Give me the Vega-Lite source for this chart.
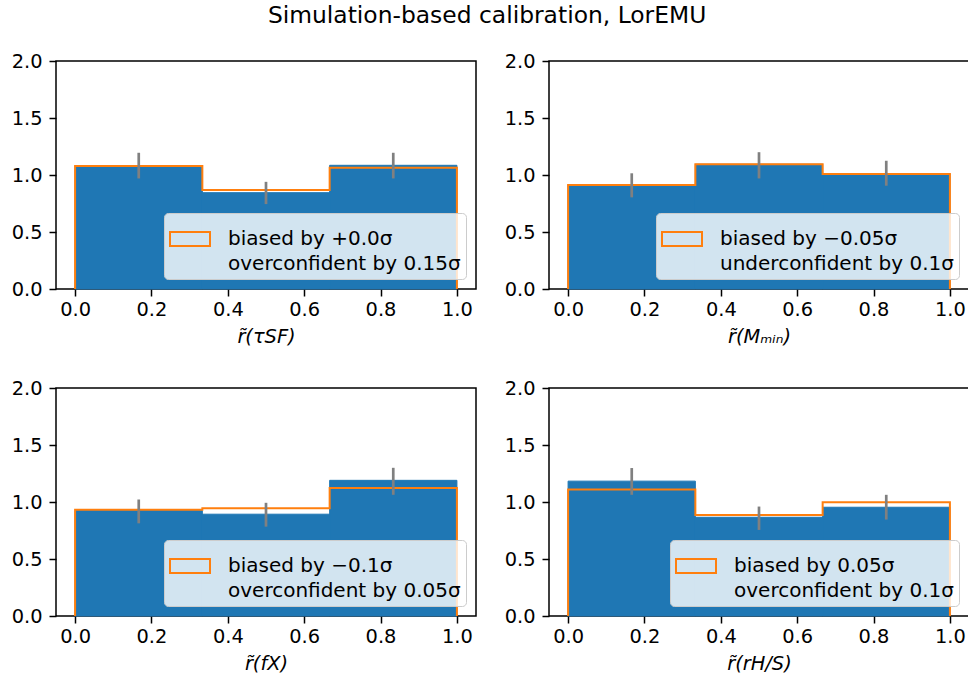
{
  "$schema": "https://vega.github.io/schema/vega-lite/v6.json",
  "background": "white",
  "padding": {"left": 10, "top": 3, "right": 0, "bottom": 0},
  "title": {"text": "Simulation-based calibration, LorEMU", "fontSize": 23.4, "font": "DejaVu Sans", "fontWeight": "normal", "anchor": "middle", "offset": 22, "dx": -3, "color": "black"},
  "config": {
    "font": "DejaVu Sans",
    "view": {"stroke": "black", "strokeWidth": 1.5},
    "axis": {"grid": false, "domain": false, "tickColor": "black", "tickSize": 7, "tickWidth": 1.5, "labelFontSize": 19.4, "labelColor": "black", "labelFont": "DejaVu Sans", "titleFontSize": 19.4, "titleFont": "DejaVu Sans", "titleFontWeight": "normal", "titleColor": "black", "titleFontStyle": "italic", "labelPadding": 4, "titlePadding": 9},
    "axisY": {"labelPadding": 7},
    "legend": {"orient": "bottom-right", "offset": 10, "symbolType": "M-1,-0.35L1,-0.35L1,0.35L-1,0.35Z", "symbolSize": 1600, "symbolStrokeWidth": 2, "symbolFillColor": "transparent", "symbolStrokeColor": "#ff7f0e", "labelFontSize": 20, "labelFont": "DejaVu Sans", "labelColor": "black", "labelLimit": 500, "labelOffset": 17, "fillColor": "rgba(255,255,255,0.8)", "strokeColor": "#cccccc", "cornerRadius": 4, "padding": 5}
  },
  "datasets": {
    "bins": [
      {"panel": "tau", "lo": 0, "hi": 0.3333, "mid": 0.1667, "sim": 1.083, "elo": 0.97, "ehi": 1.195},
      {"panel": "tau", "lo": 0.3333, "hi": 0.6667, "mid": 0.5, "sim": 0.845, "elo": 0.745, "ehi": 0.94},
      {"panel": "tau", "lo": 0.6667, "hi": 1, "mid": 0.8333, "sim": 1.085, "elo": 0.97, "ehi": 1.195},
      {"panel": "mmin", "lo": 0, "hi": 0.3333, "mid": 0.1667, "sim": 0.912, "elo": 0.804, "ehi": 1.015},
      {"panel": "mmin", "lo": 0.3333, "hi": 0.6667, "mid": 0.5, "sim": 1.094, "elo": 0.97, "ehi": 1.2},
      {"panel": "mmin", "lo": 0.6667, "hi": 1, "mid": 0.8333, "sim": 1.009, "elo": 0.906, "ehi": 1.125},
      {"panel": "fx", "lo": 0, "hi": 0.3333, "mid": 0.1667, "sim": 0.925, "elo": 0.813, "ehi": 1.022},
      {"panel": "fx", "lo": 0.3333, "hi": 0.6667, "mid": 0.5, "sim": 0.893, "elo": 0.784, "ehi": 0.993},
      {"panel": "fx", "lo": 0.6667, "hi": 1, "mid": 0.8333, "sim": 1.19, "elo": 1.063, "ehi": 1.3},
      {"panel": "rhs", "lo": 0, "hi": 0.3333, "mid": 0.1667, "sim": 1.183, "elo": 1.063, "ehi": 1.298},
      {"panel": "rhs", "lo": 0.3333, "hi": 0.6667, "mid": 0.5, "sim": 0.866, "elo": 0.755, "ehi": 0.96},
      {"panel": "rhs", "lo": 0.6667, "hi": 1, "mid": 0.8333, "sim": 0.954, "elo": 0.846, "ehi": 1.063}
    ],
    "outline": [
      {"panel": "tau", "ord": 1, "x": 0, "y": 0, "label": "biased by +0.0σ|overconfident by 0.15σ"},
      {"panel": "tau", "ord": 2, "x": 0, "y": 1.078, "label": "biased by +0.0σ|overconfident by 0.15σ"},
      {"panel": "tau", "ord": 3, "x": 0.3333, "y": 1.078, "label": "biased by +0.0σ|overconfident by 0.15σ"},
      {"panel": "tau", "ord": 4, "x": 0.3333, "y": 0.868, "label": "biased by +0.0σ|overconfident by 0.15σ"},
      {"panel": "tau", "ord": 5, "x": 0.6667, "y": 0.868, "label": "biased by +0.0σ|overconfident by 0.15σ"},
      {"panel": "tau", "ord": 6, "x": 0.6667, "y": 1.064, "label": "biased by +0.0σ|overconfident by 0.15σ"},
      {"panel": "tau", "ord": 7, "x": 1, "y": 1.064, "label": "biased by +0.0σ|overconfident by 0.15σ"},
      {"panel": "tau", "ord": 8, "x": 1, "y": 0, "label": "biased by +0.0σ|overconfident by 0.15σ"},
      {"panel": "mmin", "ord": 1, "x": 0, "y": 0, "label": "biased by −0.05σ|underconfident by 0.1σ"},
      {"panel": "mmin", "ord": 2, "x": 0, "y": 0.912, "label": "biased by −0.05σ|underconfident by 0.1σ"},
      {"panel": "mmin", "ord": 3, "x": 0.3333, "y": 0.912, "label": "biased by −0.05σ|underconfident by 0.1σ"},
      {"panel": "mmin", "ord": 4, "x": 0.3333, "y": 1.094, "label": "biased by −0.05σ|underconfident by 0.1σ"},
      {"panel": "mmin", "ord": 5, "x": 0.6667, "y": 1.094, "label": "biased by −0.05σ|underconfident by 0.1σ"},
      {"panel": "mmin", "ord": 6, "x": 0.6667, "y": 1.009, "label": "biased by −0.05σ|underconfident by 0.1σ"},
      {"panel": "mmin", "ord": 7, "x": 1, "y": 1.009, "label": "biased by −0.05σ|underconfident by 0.1σ"},
      {"panel": "mmin", "ord": 8, "x": 1, "y": 0, "label": "biased by −0.05σ|underconfident by 0.1σ"},
      {"panel": "fx", "ord": 1, "x": 0, "y": 0, "label": "biased by −0.1σ|overconfident by 0.05σ"},
      {"panel": "fx", "ord": 2, "x": 0, "y": 0.931, "label": "biased by −0.1σ|overconfident by 0.05σ"},
      {"panel": "fx", "ord": 3, "x": 0.3333, "y": 0.931, "label": "biased by −0.1σ|overconfident by 0.05σ"},
      {"panel": "fx", "ord": 4, "x": 0.3333, "y": 0.945, "label": "biased by −0.1σ|overconfident by 0.05σ"},
      {"panel": "fx", "ord": 5, "x": 0.6667, "y": 0.945, "label": "biased by −0.1σ|overconfident by 0.05σ"},
      {"panel": "fx", "ord": 6, "x": 0.6667, "y": 1.122, "label": "biased by −0.1σ|overconfident by 0.05σ"},
      {"panel": "fx", "ord": 7, "x": 1, "y": 1.122, "label": "biased by −0.1σ|overconfident by 0.05σ"},
      {"panel": "fx", "ord": 8, "x": 1, "y": 0, "label": "biased by −0.1σ|overconfident by 0.05σ"},
      {"panel": "rhs", "ord": 1, "x": 0, "y": 0, "label": "biased by 0.05σ|overconfident by 0.1σ"},
      {"panel": "rhs", "ord": 2, "x": 0, "y": 1.11, "label": "biased by 0.05σ|overconfident by 0.1σ"},
      {"panel": "rhs", "ord": 3, "x": 0.3333, "y": 1.11, "label": "biased by 0.05σ|overconfident by 0.1σ"},
      {"panel": "rhs", "ord": 4, "x": 0.3333, "y": 0.887, "label": "biased by 0.05σ|overconfident by 0.1σ"},
      {"panel": "rhs", "ord": 5, "x": 0.6667, "y": 0.887, "label": "biased by 0.05σ|overconfident by 0.1σ"},
      {"panel": "rhs", "ord": 6, "x": 0.6667, "y": 0.998, "label": "biased by 0.05σ|overconfident by 0.1σ"},
      {"panel": "rhs", "ord": 7, "x": 1, "y": 0.998, "label": "biased by 0.05σ|overconfident by 0.1σ"},
      {"panel": "rhs", "ord": 8, "x": 1, "y": 0, "label": "biased by 0.05σ|overconfident by 0.1σ"}
    ]
  },
  "columns": 2,
  "spacing": {"row": 99, "column": 73},
  "bounds": "flush",
  "resolve": {"scale": {"stroke": "independent", "x": "independent", "y": "independent"}, "legend": {"stroke": "independent"}},
  "concat": [
    {
      "width": 420, "height": 228,
      "layer": [
        {"data": {"name": "bins"}, "transform": [{"filter": "datum.panel == 'tau'"}], "mark": {"type": "bar", "color": "#1f77b4", "stroke": "#1f77b4", "strokeWidth": 1},
         "encoding": {"x": {"field": "lo", "type": "quantitative", "scale": {"domain": [-0.05, 1.05], "nice": false, "zero": false}, "axis": {"values": [0, 0.2, 0.4, 0.6, 0.8, 1.0], "format": ".1f", "title": "r̃(τSF)"}}, "x2": {"field": "hi"},
                      "y": {"field": "sim", "type": "quantitative", "scale": {"domain": [0, 2], "nice": false}, "axis": {"values": [0, 0.5, 1, 1.5, 2], "format": ".1f", "title": null}}, "y2": {"datum": 0}}},
        {"data": {"name": "outline"}, "transform": [{"filter": "datum.panel == 'tau'"}], "mark": {"type": "line", "strokeWidth": 2},
         "encoding": {"x": {"field": "x", "type": "quantitative", "title": "r̃(τSF)"}, "y": {"field": "y", "type": "quantitative", "title": null}, "order": {"field": "ord"},
                      "stroke": {"field": "label", "type": "nominal", "scale": {"range": ["#ff7f0e"]}, "legend": {"title": null, "labelExpr": "split(datum.label, '|')", "encode": {"labels": {"update": {"lineHeight": {"value": 25}}}}}}}},
        {"data": {"name": "bins"}, "transform": [{"filter": "datum.panel == 'tau'"}], "mark": {"type": "rule", "color": "gray", "strokeWidth": 2.7},
         "encoding": {"x": {"field": "mid", "type": "quantitative", "title": "r̃(τSF)"}, "y": {"field": "elo", "type": "quantitative", "title": null}, "y2": {"field": "ehi"}}}
      ]
    },
    {
      "width": 420, "height": 228,
      "layer": [
        {"data": {"name": "bins"}, "transform": [{"filter": "datum.panel == 'mmin'"}], "mark": {"type": "bar", "color": "#1f77b4", "stroke": "#1f77b4", "strokeWidth": 1},
         "encoding": {"x": {"field": "lo", "type": "quantitative", "scale": {"domain": [-0.05, 1.05], "nice": false, "zero": false}, "axis": {"values": [0, 0.2, 0.4, 0.6, 0.8, 1.0], "format": ".1f", "title": "r̃(Mₘᵢₙ)"}}, "x2": {"field": "hi"},
                      "y": {"field": "sim", "type": "quantitative", "scale": {"domain": [0, 2], "nice": false}, "axis": {"values": [0, 0.5, 1, 1.5, 2], "format": ".1f", "title": null}}, "y2": {"datum": 0}}},
        {"data": {"name": "outline"}, "transform": [{"filter": "datum.panel == 'mmin'"}], "mark": {"type": "line", "strokeWidth": 2},
         "encoding": {"x": {"field": "x", "type": "quantitative", "title": "r̃(Mₘᵢₙ)"}, "y": {"field": "y", "type": "quantitative", "title": null}, "order": {"field": "ord"},
                      "stroke": {"field": "label", "type": "nominal", "scale": {"range": ["#ff7f0e"]}, "legend": {"title": null, "labelExpr": "split(datum.label, '|')", "encode": {"labels": {"update": {"lineHeight": {"value": 25}}}}}}}},
        {"data": {"name": "bins"}, "transform": [{"filter": "datum.panel == 'mmin'"}], "mark": {"type": "rule", "color": "gray", "strokeWidth": 2.7},
         "encoding": {"x": {"field": "mid", "type": "quantitative", "title": "r̃(Mₘᵢₙ)"}, "y": {"field": "elo", "type": "quantitative", "title": null}, "y2": {"field": "ehi"}}}
      ]
    },
    {
      "width": 420, "height": 228,
      "layer": [
        {"data": {"name": "bins"}, "transform": [{"filter": "datum.panel == 'fx'"}], "mark": {"type": "bar", "color": "#1f77b4", "stroke": "#1f77b4", "strokeWidth": 1},
         "encoding": {"x": {"field": "lo", "type": "quantitative", "scale": {"domain": [-0.05, 1.05], "nice": false, "zero": false}, "axis": {"values": [0, 0.2, 0.4, 0.6, 0.8, 1.0], "format": ".1f", "title": "r̃(fX)"}}, "x2": {"field": "hi"},
                      "y": {"field": "sim", "type": "quantitative", "scale": {"domain": [0, 2], "nice": false}, "axis": {"values": [0, 0.5, 1, 1.5, 2], "format": ".1f", "title": null}}, "y2": {"datum": 0}}},
        {"data": {"name": "outline"}, "transform": [{"filter": "datum.panel == 'fx'"}], "mark": {"type": "line", "strokeWidth": 2},
         "encoding": {"x": {"field": "x", "type": "quantitative", "title": "r̃(fX)"}, "y": {"field": "y", "type": "quantitative", "title": null}, "order": {"field": "ord"},
                      "stroke": {"field": "label", "type": "nominal", "scale": {"range": ["#ff7f0e"]}, "legend": {"title": null, "labelExpr": "split(datum.label, '|')", "encode": {"labels": {"update": {"lineHeight": {"value": 25}}}}}}}},
        {"data": {"name": "bins"}, "transform": [{"filter": "datum.panel == 'fx'"}], "mark": {"type": "rule", "color": "gray", "strokeWidth": 2.7},
         "encoding": {"x": {"field": "mid", "type": "quantitative", "title": "r̃(fX)"}, "y": {"field": "elo", "type": "quantitative", "title": null}, "y2": {"field": "ehi"}}}
      ]
    },
    {
      "width": 420, "height": 228,
      "layer": [
        {"data": {"name": "bins"}, "transform": [{"filter": "datum.panel == 'rhs'"}], "mark": {"type": "bar", "color": "#1f77b4", "stroke": "#1f77b4", "strokeWidth": 1},
         "encoding": {"x": {"field": "lo", "type": "quantitative", "scale": {"domain": [-0.05, 1.05], "nice": false, "zero": false}, "axis": {"values": [0, 0.2, 0.4, 0.6, 0.8, 1.0], "format": ".1f", "title": "r̃(rH/S)"}}, "x2": {"field": "hi"},
                      "y": {"field": "sim", "type": "quantitative", "scale": {"domain": [0, 2], "nice": false}, "axis": {"values": [0, 0.5, 1, 1.5, 2], "format": ".1f", "title": null}}, "y2": {"datum": 0}}},
        {"data": {"name": "outline"}, "transform": [{"filter": "datum.panel == 'rhs'"}], "mark": {"type": "line", "strokeWidth": 2},
         "encoding": {"x": {"field": "x", "type": "quantitative", "title": "r̃(rH/S)"}, "y": {"field": "y", "type": "quantitative", "title": null}, "order": {"field": "ord"},
                      "stroke": {"field": "label", "type": "nominal", "scale": {"range": ["#ff7f0e"]}, "legend": {"title": null, "labelExpr": "split(datum.label, '|')", "encode": {"labels": {"update": {"lineHeight": {"value": 25}}}}}}}},
        {"data": {"name": "bins"}, "transform": [{"filter": "datum.panel == 'rhs'"}], "mark": {"type": "rule", "color": "gray", "strokeWidth": 2.7},
         "encoding": {"x": {"field": "mid", "type": "quantitative", "title": "r̃(rH/S)"}, "y": {"field": "elo", "type": "quantitative", "title": null}, "y2": {"field": "ehi"}}}
      ]
    }
  ]
}
